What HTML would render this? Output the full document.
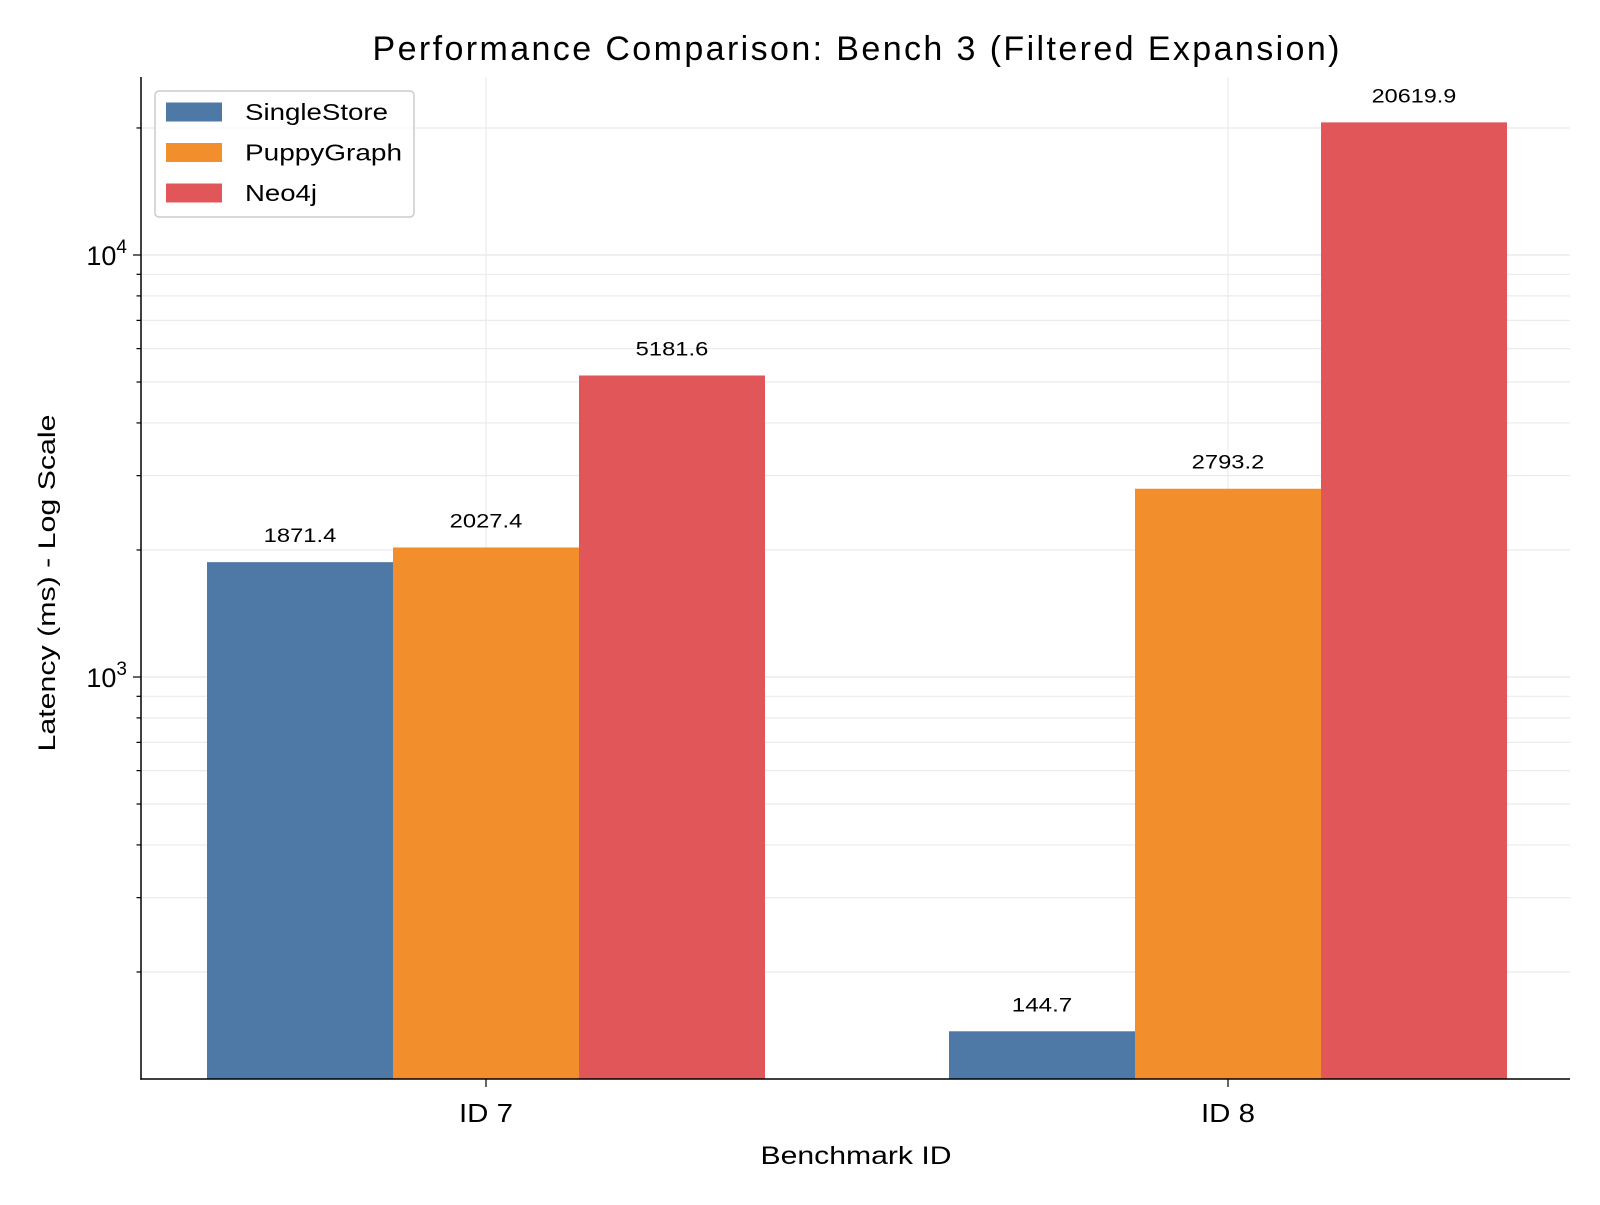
<!DOCTYPE html>
<html><head><meta charset="utf-8"><style>
body{margin:0;background:#fff;}
svg text{font-family:"Liberation Sans",sans-serif;fill:#000;}
</style></head><body>
<svg id="chart" width="1600" height="1200" xmlns="http://www.w3.org/2000/svg">
<rect width="1600" height="1200" fill="#fff"/>
<g id="grid"></g>
<g id="bars"></g>
<g id="axes"></g>
<text x="856" y="60" font-size="34" text-anchor="middle" textLength="967" lengthAdjust="spacing">Performance Comparison: Bench 3 (Filtered Expansion)</text>
<text x="856" y="1164" font-size="25" text-anchor="middle" textLength="191" lengthAdjust="spacingAndGlyphs">Benchmark ID</text>
<text transform="translate(55,583) rotate(-90)" font-size="24" text-anchor="middle" textLength="337" lengthAdjust="spacingAndGlyphs">Latency (ms) - Log Scale</text>
<g>
<rect x="155" y="91" width="259" height="126" rx="4" fill="#fff" fill-opacity="0.8" stroke="#ccc" stroke-width="1.5"/>
<g id="legend-items"></g>
</g>
</svg>
<script>
const categories=["ID 7","ID 8"];
const seriesNames=["SingleStore","PuppyGraph","Neo4j"];
const singleStore=[1871.4,144.7];
const puppyGraph=[2027.4,2793.2];
const neo4j=[5181.6,20619.9];
const colors=["#4e79a7","#f28e2b","#e15759"];
const series=[singleStore,puppyGraph,neo4j];
const legendWidths=[143,157,72];
const NS="http://www.w3.org/2000/svg";
const L=141,R=1570,T=77,B=1079;
const y10k=255,decade=422;
function yScale(v){return y10k-(Math.log10(v)-4)*decade;}
const catX=[486,1228];
function xScale(i){return catX[0]+(catX[1]-catX[0])*i;}
const bw=186;
function mk(tag,attrs,parent){const e=document.createElementNS(NS,tag);for(const k in attrs)e.setAttribute(k,attrs[k]);parent.appendChild(e);return e;}
const grid=document.getElementById('grid'),bars=document.getElementById('bars'),axes=document.getElementById('axes');
for(let d=2;d<=4;d++){for(let m=1;m<=9;m++){const v=m*Math.pow(10,d);const y=yScale(v);if(y<T||y>B)continue;
const g=mk('line',{x1:L,x2:R,y1:y,y2:y,stroke:'#ebebeb','stroke-width':m===1?1.5:1.2},grid);


const t=mk('line',{x1:L-(m===1?8:4.5),x2:L,y1:y,y2:y,stroke:'#000','stroke-width':1.2},axes);


if(m===1){const tx=mk('text',{x:L-14,y:y+10,'font-size':27,'text-anchor':'end'},axes);tx.innerHTML='10<tspan dy="-12" font-size="19">'+d+'</tspan>';

}}}
categories.forEach((c,i)=>{const x=xScale(i);
const g=mk('line',{x1:x,x2:x,y1:T,y2:B,stroke:'#ebebeb','stroke-width':1.2},grid);


const t=mk('line',{x1:x,x2:x,y1:B,y2:B+8,stroke:'#000','stroke-width':1.2},axes);


const tl=mk('text',{x:x,y:B+43,'font-size':26,'text-anchor':'middle',textLength:54,lengthAdjust:'spacingAndGlyphs'},axes);tl.textContent=c;


series.forEach((s,j)=>{const bx=x+(j-1)*bw-bw/2;const y=yScale(s[i]);
const r=mk('rect',{x:bx,y:y,width:bw,height:B-y,fill:colors[j]},bars);


const txt=s[i].toFixed(1);
const lb=mk('text',{x:bx+bw/2,y:y-20,'font-size':19,'text-anchor':'middle',textLength:txt.length*12.1,lengthAdjust:'spacingAndGlyphs'},bars);lb.textContent=txt;

});});
const a1=mk('line',{x1:L,x2:L,y1:T,y2:B+0.75,stroke:'#000','stroke-width':1.5},axes);


const a2=mk('line',{x1:L-0.75,x2:R,y1:B,y2:B,stroke:'#000','stroke-width':1.5},axes);


const li=document.getElementById('legend-items');
seriesNames.forEach((n,j)=>{const cy=112+j*40.5;
const p=mk('rect',{x:166,y:cy-9.5,width:56,height:19,fill:colors[j]},li);


const t=mk('text',{x:245,y:cy+8,'font-size':23,textLength:legendWidths[j],lengthAdjust:'spacingAndGlyphs'},li);t.textContent=n;

});
</script>
</body></html>
